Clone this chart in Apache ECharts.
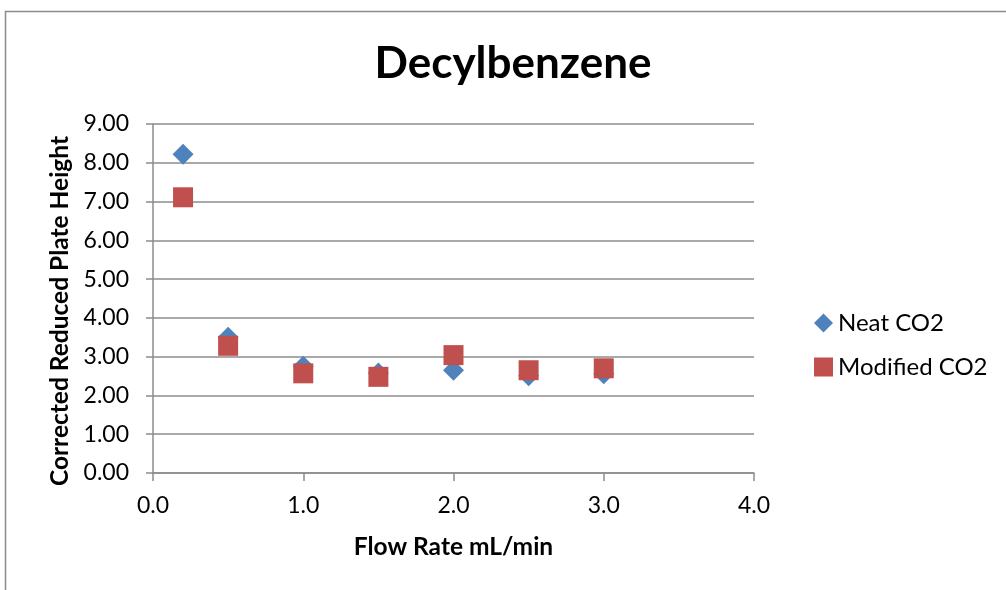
<!DOCTYPE html>
<html>
<head>
<meta charset="utf-8">
<script src="https://cdn.jsdelivr.net/npm/echarts@6/dist/echarts.min.js"></script>
<style>
  html, body { margin: 0; padding: 0; background: #fff; }
  #chart { width: 1006px; height: 590px; }
</style>
</head>
<body>
<div id="chart"></div>
<script>
// Flow rate (mL/min) and corrected reduced plate height for each mobile phase
const flowRates = [0.2, 0.5, 1.0, 1.5, 2.0, 2.5, 3.0];
const neatCO2 = [8.22, 3.50, 2.75, 2.58, 2.65, 2.51, 2.56];
const modifiedCO2 = [7.11, 3.28, 2.57, 2.48, 3.04, 2.65, 2.70];
const seriesNames = ['Neat CO2', 'Modified CO2'];
const yTitle = 'Corrected Reduced Plate Height';

const FONT = 'Lato, Carlito, "Open Sans", sans-serif';
const GRAY = '#8c8c8c';

const pairs = (xs, ys) => xs.map((x, i) => [x, ys[i]]);

const chart = echarts.init(document.getElementById('chart'), null, { renderer: 'canvas' });
chart.setOption({
  backgroundColor: '#ffffff',
  animation: false,
  title: {
    text: 'Decylbenzene',
    left: 508, top: 37, textAlign: 'center',
    textStyle: { fontFamily: FONT, fontSize: 44, fontWeight: 'bold', color: '#000' }
  },
  graphic: [
    {
      type: 'rect',
      shape: { x: 5.5, y: 11.5, width: 1010, height: 600 },
      style: { fill: 'none', stroke: GRAY, lineWidth: 1.5 },
      silent: true
    },
    {
      type: 'text',
      x: 60, y: 311, rotation: Math.PI / 2,
      style: {
        text: yTitle, align: 'center', verticalAlign: 'middle',
        font: 'bold 24.5px ' + FONT, fill: '#000'
      },
      silent: true
    }
  ],
  legend: {
    orient: 'vertical',
    left: 809, top: 306,
    itemGap: 20,
    itemWidth: 19, itemHeight: 19,
    textStyle: { fontFamily: FONT, fontSize: 24, color: '#000' },
    data: [
      { name: seriesNames[0], icon: 'diamond', itemStyle: { color: '#4F81BD' } },
      { name: seriesNames[1], icon: 'rect', itemStyle: { color: '#C0504D' } }
    ]
  },
  grid: { left: 153, right: 252, top: 124, bottom: 117, containLabel: false },
  xAxis: {
    type: 'value', min: 0, max: 4, interval: 1,
    name: 'Flow Rate mL/min', nameLocation: 'middle', nameGap: 62,
    nameTextStyle: { fontFamily: FONT, fontSize: 24.5, fontWeight: 'bold', color: '#000' },
    axisLine: { show: true, lineStyle: { color: GRAY, width: 1.5 } },
    axisTick: { show: true, length: 8, inside: false, lineStyle: { color: GRAY, width: 1.5 } },
    axisLabel: { fontFamily: FONT, fontSize: 23, color: '#000', margin: 21,
      formatter: v => v.toFixed(1) },
    splitLine: { show: false }
  },
  yAxis: {
    type: 'value', min: 0, max: 9, interval: 1,
    axisLine: { show: true, lineStyle: { color: GRAY, width: 1.5 } },
    axisTick: { show: true, length: 7, inside: false, lineStyle: { color: GRAY, width: 1.5 } },
    axisLabel: { fontFamily: FONT, fontSize: 23, color: '#000', margin: 24,
      formatter: v => v.toFixed(2) },
    splitLine: { show: true, lineStyle: { color: GRAY, width: 1.5 } }
  },
  series: [
    {
      name: seriesNames[0], type: 'scatter', symbol: 'diamond', symbolSize: 21,
      itemStyle: { color: '#4F81BD', opacity: 1 },
      data: pairs(flowRates, neatCO2), z: 2
    },
    {
      name: seriesNames[1], type: 'scatter', symbol: 'rect', symbolSize: 20,
      itemStyle: { color: '#C0504D', opacity: 1 },
      data: pairs(flowRates, modifiedCO2), z: 3
    }
  ]
});
</script>
</body>
</html>
